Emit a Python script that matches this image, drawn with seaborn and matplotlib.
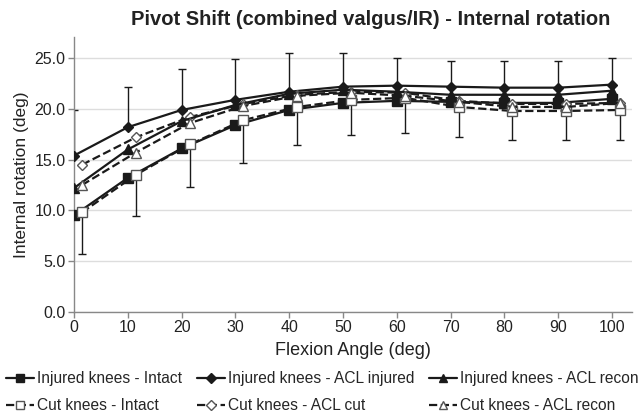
import numpy as np
import pandas as pd
import matplotlib
matplotlib.use("Agg")
import matplotlib.pyplot as plt
import seaborn as sns

# Flexion angles (deg)
angles = [0, 10, 20, 30, 40, 50, 60, 70, 80, 90, 100]
cut_offset = 1.5  # cut-knee series are drawn slightly right of the tick

# Mean internal rotation (deg)
inj_intact = [9.5, 13.2, 16.1, 18.4, 19.9, 20.6, 20.8, 20.7, 20.6, 20.6, 21.0]
inj_acl_injured = [15.4, 18.2, 19.9, 20.9, 21.7, 22.2, 22.3, 22.2, 22.1, 22.1, 22.4]
inj_acl_recon = [12.2, 16.0, 18.8, 20.4, 21.5, 21.9, 21.7, 21.4, 21.4, 21.4, 21.8]
cut_intact = [9.8, 13.5, 16.5, 18.9, 20.2, 20.9, 21.1, 20.2, 19.8, 19.8, 19.9]
cut_acl_cut = [14.5, 17.2, 19.2, 20.5, 21.4, 21.7, 21.6, 20.8, 20.5, 20.5, 20.6]
cut_acl_recon = [12.5, 15.7, 18.6, 20.3, 21.3, 21.6, 21.3, 20.7, 20.2, 20.2, 20.6]

# One-sided error bars (SD)
inj_acl_injured_sd = [4.5, 4.0, 4.0, 4.0, 3.8, 3.3, 2.7, 2.5, 2.6, 2.6, 2.6]
cut_intact_sd = [4.1, 4.1, 4.2, 4.2, 3.8, 3.5, 3.5, 3.0, 2.9, 2.9, 3.0]

series = [
    ("Injured knees - Intact", inj_intact, 0, "s", "-", True, 7),
    ("Cut knees - Intact", cut_intact, cut_offset, "s", "--", False, 7),
    ("Injured knees - ACL injured", inj_acl_injured, 0, "D", "-", True, 5.5),
    ("Cut knees - ACL cut", cut_acl_cut, cut_offset, "D", "--", False, 5.5),
    ("Injured knees - ACL recon", inj_acl_recon, 0, "^", "-", True, 7),
    ("Cut knees - ACL recon", cut_acl_recon, cut_offset, "^", "--", False, 7),
]

sns.set_style("white")
plt.rcParams['font.family'] = ['Liberation Sans', 'DejaVu Sans']

fig = plt.figure(figsize=(6.44, 4.16), dpi=100)
ax = fig.add_axes([0.115, 0.251, 0.866, 0.66])

# Error bars first so markers sit on top
ax.errorbar(angles, inj_acl_injured,
            yerr=[np.zeros(len(angles)), inj_acl_injured_sd],
            fmt="none", ecolor="#1a1a1a", elinewidth=1.0, capsize=3, capthick=1.0, zorder=2)
ax.errorbar(np.array(angles) + cut_offset, cut_intact,
            yerr=[cut_intact_sd, np.zeros(len(angles))],
            fmt="none", ecolor="#1a1a1a", elinewidth=1.0, capsize=3, capthick=1.0, zorder=2)

for label, vals, off, mk, ls, filled, ms in series:
    df = pd.DataFrame({"angle": np.array(angles) + off, "rot": vals})
    sns.lineplot(data=df, x="angle", y="rot", ax=ax, color="#1a1a1a",
                 linestyle=ls, linewidth=1.6, marker=mk, markersize=ms,
                 markerfacecolor="#1a1a1a" if filled else "white",
                 markeredgecolor="#1a1a1a" if filled else "#555555",
                 markeredgewidth=1.0, label=label, zorder=3, legend=False)

ax.set_xlim(0, 103.7)
ax.set_ylim(0, 27.1)
ax.set_xticks(angles)
ax.set_yticks([0, 5, 10, 15, 20, 25])
ax.set_yticklabels([f"{v:.1f}" for v in [0, 5, 10, 15, 20, 25]])
ax.yaxis.grid(True, color="#dddddd", linewidth=1.0)
ax.set_axisbelow(True)
for s in ["top", "right"]:
    ax.spines[s].set_visible(False)
for s in ["left", "bottom"]:
    ax.spines[s].set_color("#888888")
    ax.spines[s].set_linewidth(1.0)
ax.tick_params(axis="both", which="both", direction="out", length=4, width=1,
               color="#888888", labelsize=11.5, labelcolor="#222222", pad=2,
               bottom=True, left=True)

ax.set_xlabel("Flexion Angle (deg)", fontsize=13, color="#222222", labelpad=5)
ax.set_ylabel("Internal rotation (deg)", fontsize=12.5, color="#222222", labelpad=4)
fig.text(0.575, 0.952, "Pivot Shift (combined valgus/IR) - Internal rotation",
         fontsize=14.5, fontweight="bold", color="#222222", ha="center", va="center")

handles, labels = ax.get_legend_handles_labels()
fig.legend(handles, labels, ncol=3, loc="lower left", bbox_to_anchor=(0.0, -0.008),
           frameon=False, fontsize=11.2, handlelength=1.8, handletextpad=0.2,
           columnspacing=0.95, labelspacing=0.75, markerscale=0.85, borderpad=0.2,
           borderaxespad=0.2)

fig.savefig("out.png", dpi=100)
